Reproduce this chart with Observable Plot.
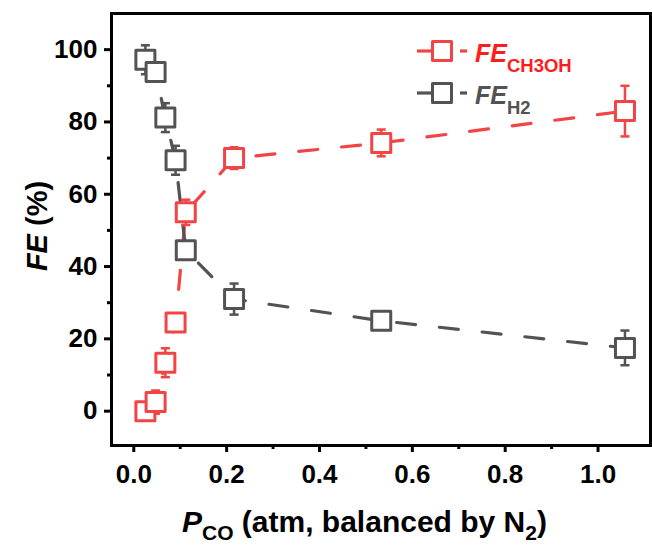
<!DOCTYPE html>
<html><head><meta charset="utf-8">
<script src="https://cdn.jsdelivr.net/npm/d3@7"></script>
<script src="https://cdn.jsdelivr.net/npm/@observablehq/plot@0.6"></script>
<style>
html,body{margin:0;padding:0;background:#fff;}
#chart{position:relative;width:652px;height:546px;}
</style></head><body><div id="chart"></div>
<script>
// ---- data ----
const pressure = [0.025, 0.047, 0.068, 0.090, 0.112, 0.216, 0.533, 1.058];
const feCH3OH  = [0, 2.5, 13.4, 24.5, 55, 70, 74.2, 83];
const errCH3OH = [1, 3.2, 4, 2, 3.5, 3, 3.7, 7];
const feH2     = [97.2, 93.8, 81.2, 69.4, 44.5, 31, 25, 17.5];
const errH2    = [4, 1.5, 4, 4, 2, 4.3, 1.5, 4.8];
const xMajorTicks = [0, 0.2, 0.4, 0.6, 0.8, 1.0];
const xMinorTicks = [0.1, 0.3, 0.5, 0.7, 0.9];
const yMajorTicks = [0, 20, 40, 60, 80, 100];
const yMinorTicks = [10, 30, 50, 70, 90];
const seriesNames = ["CH3OH", "H2"];
const seriesColors = ["#f24444", "#535353"];
const legendTextColors = ["#ff1c1c", "#535353"];

const rows = [];
seriesNames.forEach((s, k) => {
  const ys = k === 0 ? feCH3OH : feH2;
  const es = k === 0 ? errCH3OH : errH2;
  pressure.forEach((p, i) => rows.push({series: s, x: p, y: ys[i], lo: ys[i] - es[i], hi: ys[i] + es[i]}));
});

const squareSym = {draw(ctx, size) { const s = Math.sqrt(size) / 2; ctx.moveTo(-s, -s); ctx.lineTo(s, -s); ctx.lineTo(s, s); ctx.lineTo(-s, s); ctx.closePath(); }};
const capSym = {draw(ctx, size) { const s = Math.sqrt(size) / 2; ctx.moveTo(-s, 0); ctx.lineTo(s, 0); }};

const FONT = "'Liberation Sans', Arial, sans-serif";

const plot = Plot.plot({
  width: 652,
  height: 546,
  marginLeft: 111,
  marginRight: 2,
  marginTop: 13,
  marginBottom: 101,
  style: {fontFamily: FONT, fontSize: "26px", fontWeight: "bold", color: "black", background: "white"},
  x: {domain: [-0.048, 1.113]},
  y: {domain: [-9.5, 110]},
  color: {domain: seriesNames, range: seriesColors},
  marks: [
    Plot.line(rows, {x: "x", y: "y", z: "series", stroke: "series", strokeWidth: 3.2, strokeDasharray: "19 24"}),
    Plot.ruleX(rows, {x: "x", y1: "lo", y2: "hi", stroke: "series", strokeWidth: 2.5}),
    Plot.dot(rows, {x: "x", y: "hi", symbol: capSym, r: 5.1, stroke: "series", strokeWidth: 2.5}),
    Plot.dot(rows, {x: "x", y: "lo", symbol: capSym, r: 5.1, stroke: "series", strokeWidth: 2.5}),
    Plot.dot(rows, {x: "x", y: "y", symbol: squareSym, r: 10.72, stroke: "series", fill: "white", strokeWidth: 3, strokeLinejoin: "round"}),
    Plot.axisX(xMajorTicks, {anchor: "bottom", tickSize: 7, tickPadding: 12, strokeWidth: 3, tickFormat: d3.format(".1f"), label: null}),
    Plot.axisX(xMinorTicks, {anchor: "bottom", tickSize: 4, strokeWidth: 3, tickFormat: () => "", label: null}),
    Plot.axisY(yMajorTicks, {anchor: "left", tickSize: 7, tickPadding: 7, strokeWidth: 3, label: null}),
    Plot.axisY(yMinorTicks, {anchor: "left", tickSize: 4, strokeWidth: 3, tickFormat: () => "", label: null}),
    Plot.frame({stroke: "black", strokeWidth: 3})
  ]
});

document.getElementById("chart").appendChild(plot);

const svg = d3.select(plot);

// x-axis title
const xl = svg.append("text").attr("x", 182).attr("y", 532).attr("text-anchor", "start")
  .attr("font-size", 30).attr("font-weight", "bold").attr("fill", "black").attr("font-family", FONT);
xl.append("tspan").attr("font-style", "italic").text("P");
xl.append("tspan").attr("font-size", 21).attr("dy", 8).text("CO");
xl.append("tspan").attr("dy", -8).text(" (atm, balanced by N");
xl.append("tspan").attr("font-size", 21).attr("dy", 8).text("2");
xl.append("tspan").attr("dy", -8).text(")");

// y-axis title
const yl = svg.append("text").attr("transform", "translate(47,226) rotate(-90)")
  .attr("text-anchor", "middle").attr("font-size", 29).attr("font-weight", "bold").attr("fill", "black").attr("font-family", FONT);
yl.append("tspan").attr("font-style", "italic").text("FE");
yl.append("tspan").text(" (%)");

// legend
const legendY = [51, 93];
const legendSubs = ["CH3OH", "H2"];
seriesNames.forEach((s, k) => {
  const yc = legendY[k];
  const g = svg.append("g");
  g.append("line").attr("x1", 417).attr("x2", 432).attr("y1", yc).attr("y2", yc)
    .attr("stroke", seriesColors[k]).attr("stroke-width", 3.2);
  g.append("line").attr("x1", 460).attr("x2", 467).attr("y1", yc).attr("y2", yc)
    .attr("stroke", seriesColors[k]).attr("stroke-width", 3.2);
  g.append("rect").attr("x", 432.5).attr("y", yc - 9.5).attr("width", 19).attr("height", 19)
    .attr("fill", "white").attr("stroke", seriesColors[k]).attr("stroke-width", 3).attr("stroke-linejoin", "round");
  const t = g.append("text").attr("x", 475).attr("y", yc + 11).attr("text-anchor", "start").attr("font-size", 25)
    .attr("font-weight", "bold").attr("fill", legendTextColors[k]).attr("font-family", FONT);
  t.append("tspan").attr("font-style", "italic").text("FE");
  t.append("tspan").attr("font-size", 18.5).attr("dy", 10).text(legendSubs[k]);
});
</script>
</body></html>
